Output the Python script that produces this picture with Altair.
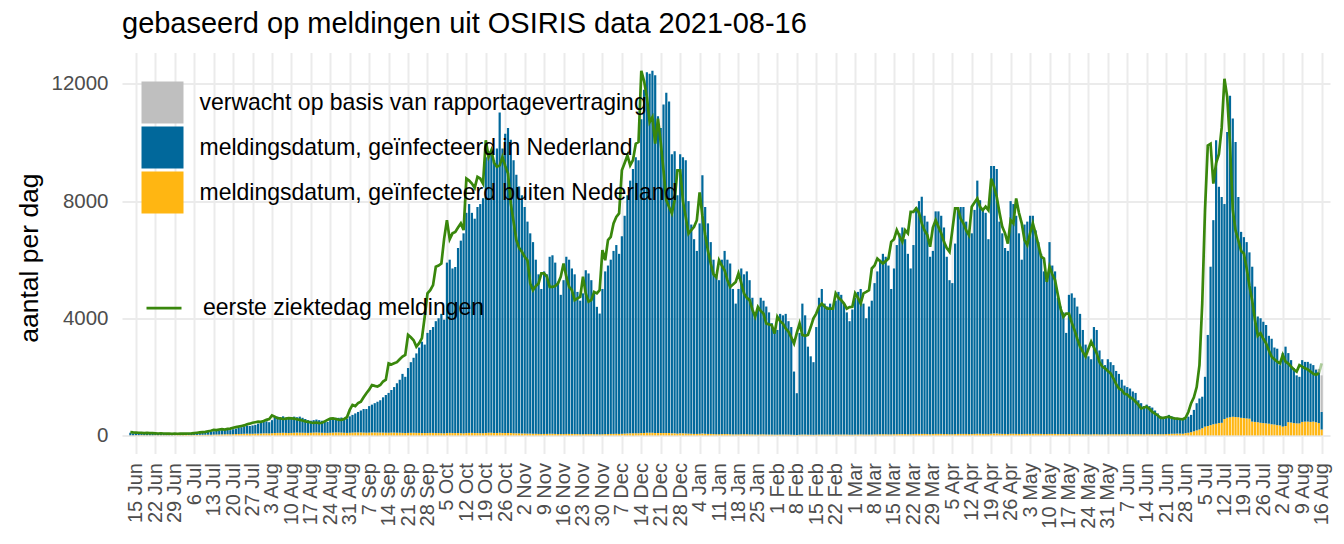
import altair as alt
import pandas as pd

LAB_EXP = "verwacht op basis van rapportagevertraging"
LAB_NL = "meldingsdatum, geïnfecteerd in Nederland"
LAB_ABR = "meldingsdatum, geïnfecteerd buiten Nederland"
LAB_LINE = "eerste ziektedag meldingen"
TITLE = "gebaseerd op meldingen uit OSIRIS data 2021-08-16"
Y_TITLE = "aantal per dag"

GREY = "#bfbfbf"
BLUE = "#01689b"
ORANGE = "#ffb612"
GREEN = "#39870c"
FONT = "Liberation Sans"

START = "2020-06-13"

# height of the stacked bars (in NL + abroad), one per day from 13 Jun 2020
bar_top = [
    90, 70,
    100, 95, 110, 90, 85, 80, 75,
    70, 65, 75, 70, 60, 60, 55,
    55, 60, 55, 60, 65, 70, 60,
    70, 80, 90, 95, 110, 130, 120,
    140, 150, 170, 180, 190, 200, 180,
    210, 230, 260, 280, 310, 340, 320,
    340, 360, 400, 430, 460, 480, 450,
    520, 600, 640, 620, 650, 610, 580,
    600, 640, 620, 640, 600, 560, 520,
    500, 520, 540, 520, 500, 480, 460,
    550, 580, 600, 600, 610, 590, 570,
    650, 700, 750, 800, 850, 900, 900,
    1000, 1050, 1100, 1150, 1200, 1300, 1380,
    1450, 1550, 1650, 1780, 1900, 2100, 2000,
    2300, 2500, 2650, 2800, 3000, 3200, 3100,
    3500, 3600, 3700, 3900, 4000, 4150, 3950,
    5900, 6000, 5700, 5750, 6400, 6650, 6900,
    7600, 7900, 7600, 7400, 7800, 7900, 8100,
    9500, 9700, 9600, 9400, 9800, 11030, 9800,
    10300, 10500, 10100, 9400, 8900, 8500, 8200,
    7800, 7300, 6900, 6600, 6000, 5500, 5000,
    5600, 5500, 6100, 6150, 5900, 5250, 4800,
    5300, 6100, 6000, 5700, 5500, 4900, 4600,
    4850, 5640, 5530, 5300, 4850, 4390, 4160,
    5000, 5600, 5800, 6000, 6300, 6500, 6200,
    6800, 7500, 8200, 8700, 9100, 9500, 9400,
    10800, 11800, 12400, 12350, 12450, 12300, 10900,
    10500, 11300, 11700, 11400, 9600, 9700, 8200,
    9600, 9500, 9400, 8000, 7200, 6700, 6300,
    7240, 8880, 7800, 7240, 6600, 6000, 5500,
    5300, 6000, 6300, 6000, 5870, 5000, 4500,
    5000, 5700, 5500, 5600, 5300, 4700, 4200,
    4300, 4700, 4600, 4400, 4200, 3830, 3500,
    3600, 4150, 4100, 4150, 3900, 3700, 2180,
    1440, 3500, 4500, 4100, 3030, 2700, 2500,
    3700, 4700, 5000, 4500, 4400, 4500, 4300,
    4600, 4900, 4800, 4500, 4200, 3900, 4300,
    4700, 4900, 5000, 4500, 4000, 4400, 4600,
    5200, 5600, 6000, 6200, 6100, 5800, 5000,
    5700, 6500, 6900, 7100, 6700, 6200, 5700,
    6500, 7800, 8000, 8150, 7500, 7300, 6100,
    6300, 7650, 7650, 7500, 7100, 6100, 5300,
    5200, 6550, 7750, 7800, 7800, 7300, 6900,
    6900, 7700, 8700, 8030, 7700, 7600, 6700,
    9200, 9200, 9100, 7300, 6900, 6400, 6300,
    8000, 7900, 7500, 6900, 6000, 7200, 7300,
    7500, 7500, 7000, 6600, 6200, 5600, 5300,
    6600, 5800, 5600, 4700, 4400, 4200, 3500,
    4800, 4850, 4700, 4400, 4150, 3600, 3100,
    2700, 2600, 3700, 3600, 2900, 2600, 2400,
    2600, 2500, 2400, 2200, 2100, 1900, 1700,
    1650, 1600, 1500, 1450, 1200, 1100, 1000,
    1050, 1000, 950, 850, 750, 650, 580,
    650, 700, 650, 600, 580, 560, 530,
    560, 640, 700, 870, 1100, 1260, 1320,
    2000, 3430, 5760, 7350, 10080, 8490, 8140,
    7900, 10360, 11600, 10820, 10020, 8140, 6950,
    6770, 6600, 6250, 5760, 5080, 4060, 4000,
    3880, 3770, 3400, 3300, 3000, 2960, 2400,
    2810, 3030, 2810, 2570, 2300, 2050, 2000,
    2570, 2510, 2510, 2450, 2400, 2250, 2150,
    800,
]

# infected abroad (bottom of each bar)
abroad = [
    5, 5,
    8, 8, 10, 8, 8, 7, 6,
    8, 7, 8, 8, 7, 7, 6,
    8, 10, 9, 10, 12, 12, 10,
    14, 16, 18, 20, 22, 25, 22,
    28, 30, 32, 35, 38, 40, 36,
    40, 45, 48, 50, 55, 58, 52,
    55, 60, 62, 65, 70, 72, 68,
    75, 80, 85, 85, 90, 85, 80,
    85, 90, 95, 92, 90, 88, 85,
    90, 95, 100, 95, 90, 88, 85,
    90, 95, 100, 100, 95, 90, 85,
    90, 95, 100, 100, 100, 95, 90,
    95, 100, 100, 100, 95, 95, 90,
    90, 95, 95, 90, 90, 85, 80,
    85, 90, 90, 85, 85, 80, 80,
    80, 85, 85, 80, 80, 75, 70,
    80, 85, 80, 80, 80, 75, 70,
    80, 85, 85, 80, 80, 75, 75,
    85, 90, 90, 85, 85, 90, 80,
    85, 85, 80, 75, 70, 70, 65,
    65, 60, 60, 55, 55, 50, 45,
    50, 50, 55, 55, 50, 45, 45,
    45, 50, 50, 50, 45, 45, 40,
    40, 45, 45, 45, 40, 40, 35,
    40, 45, 45, 50, 50, 55, 50,
    55, 60, 65, 70, 70, 75, 70,
    80, 85, 90, 90, 90, 85, 80,
    80, 85, 85, 80, 70, 70, 60,
    70, 70, 65, 60, 55, 50, 50,
    55, 60, 55, 50, 50, 45, 40,
    40, 45, 45, 45, 40, 35, 35,
    35, 40, 40, 40, 35, 35, 30,
    30, 35, 35, 30, 30, 30, 25,
    25, 30, 30, 30, 30, 25, 20,
    15, 25, 30, 30, 25, 25, 20,
    25, 30, 30, 30, 30, 30, 25,
    30, 30, 30, 30, 30, 25, 25,
    30, 30, 35, 30, 30, 30, 30,
    35, 35, 40, 40, 40, 35, 35,
    40, 40, 45, 45, 45, 40, 40,
    45, 50, 50, 50, 50, 45, 40,
    45, 50, 50, 50, 45, 45, 40,
    40, 45, 50, 50, 50, 50, 45,
    45, 50, 55, 55, 50, 50, 45,
    55, 60, 60, 55, 50, 50, 45,
    55, 55, 50, 50, 45, 50, 50,
    50, 55, 55, 50, 50, 45, 45,
    50, 50, 50, 45, 45, 45, 40,
    45, 45, 45, 45, 40, 40, 35,
    35, 35, 40, 40, 35, 35, 35,
    40, 40, 40, 40, 40, 40, 40,
    40, 40, 40, 40, 40, 40, 35,
    40, 40, 40, 40, 40, 40, 40,
    45, 50, 55, 55, 60, 60, 55,
    75, 90, 110, 140, 170, 200, 245,
    300, 320, 350, 380, 400, 420, 430,
    560, 600, 620, 640, 630, 620, 600,
    590, 580, 570, 470, 460, 450, 430,
    420, 410, 400, 380, 370, 350, 340,
    300, 320, 450, 440, 420, 410, 410,
    460, 470, 470, 460, 470, 450, 420,
    200,
]

# first day of illness (green line)
first_sick = [
    110, 100,
    95, 90, 85, 80, 85, 80, 75,
    70, 65, 70, 65, 60, 60, 55,
    60, 55, 60, 65, 60, 65, 70,
    80, 90, 100, 110, 120, 140, 160,
    190, 180, 200, 210, 200, 220, 230,
    260, 280, 300, 320, 340, 380, 400,
    430, 450, 470, 460, 490, 530, 560,
    680, 640, 590, 580, 560, 570, 590,
    580, 570, 550, 530, 510, 480, 460,
    440, 430, 440, 420, 430, 480, 530,
    570, 580, 560, 540, 530, 560, 620,
    870, 1040, 1000, 1100, 1150, 1300, 1440,
    1560, 1720, 1690, 1670, 1720, 1840, 1900,
    2460, 2420, 2460, 2500, 2600, 2690, 2750,
    3430, 3350, 3250, 3030, 3150, 3320, 4050,
    4850, 4960, 5130, 5760, 5800, 5870, 6720,
    7350, 6700, 6900, 6950, 7100, 7240, 7010,
    8770, 8700, 8600, 8450, 8830, 8770, 8600,
    10080, 9510, 9740, 9300, 9170, 9220, 9510,
    9200, 8940, 7920, 7300, 6670, 6400, 6270,
    6100, 5980, 5190, 4960, 5100, 5190, 5530,
    5530, 5420, 5070, 5070, 5100, 5190, 5420,
    5870, 5420, 5070, 4960, 4620, 4680, 4730,
    5420, 4850, 4570, 4620, 4900, 4850, 4960,
    6330, 5980, 6670, 6780, 7240, 7460, 7580,
    9050, 9300, 9560, 9220, 9400, 9960, 10020,
    12450, 12100, 11550, 10700, 10870, 9960, 10820,
    10000, 9050, 8030, 7800, 7580, 8030, 9050,
    9050, 8000, 7460, 6890, 7010, 7120, 7350,
    8300, 7500, 6850, 6300, 5870, 5500, 5400,
    5980, 5800, 5640, 5300, 5070, 5150, 5240,
    5530, 5200, 4850, 4700, 4620, 4300, 4050,
    4390, 4250, 4160, 3820, 3790, 3760, 3480,
    4050, 3900, 3820, 3650, 3540, 3350, 3140,
    3500, 3820, 3430, 3400, 3430, 3700, 4000,
    4160, 4400, 4500, 4400, 4330, 4330, 4330,
    4850, 4700, 4620, 4500, 4330, 4380, 4390,
    4850, 4700, 4500, 4850, 4900, 4960, 5700,
    5800, 6040, 5950, 5870, 5950, 6040, 6610,
    6700, 7010, 6800, 6610, 7010, 6900, 7630,
    7630, 7750, 7600, 7240, 7000, 6840, 6440,
    7100, 7350, 7120, 6900, 6610, 6400, 6270,
    7000, 7750, 7750, 7400, 7240, 7000, 6840,
    7810, 7950, 8090, 7800, 7690, 7810, 7690,
    8770, 8500, 8140, 7600, 7120, 6900, 6550,
    7350, 7240, 8090, 7600, 7240, 6670, 6500,
    6900, 7240, 6890, 6500, 6100, 6040, 5240,
    5760, 5500, 5300, 4800, 4330, 4050, 4160,
    4160, 3850, 3600, 3300, 3030, 2850, 2690,
    2950, 3200, 3000, 2800, 2500, 2350, 2290,
    2200, 2120, 1950, 1750, 1600, 1550, 1420,
    1400, 1300, 1250, 1150, 1050, 920, 950,
    980, 900, 800, 740, 680, 600, 600,
    620, 640, 600, 580, 570, 560, 550,
    600, 800, 1100, 1300, 1650, 2400, 4500,
    7700, 9900, 9960, 8600, 9300, 9600, 10500,
    12180, 11550, 9960, 7700, 7000, 6670, 6300,
    6210, 5700, 5100, 4600, 3940, 3400, 3490,
    3300, 3140, 2900, 2690, 2600, 2520, 2460,
    2750, 2520, 2450, 2350, 2250, 2180, 2400,
    2350, 2290, 2250, 2180, 2100, 2070, 2120,
    2460,
]

expected_dates = ["2021-08-14", "2021-08-15", "2021-08-16"]
expected_vals = [20, 120, 1250]

y_ticks = [0, 4000, 8000, 12000]
tick_dates = pd.date_range("2020-06-15", "2021-08-16", freq="7D")

assert len(bar_top) == len(abroad) == len(first_sick), (len(bar_top), len(abroad), len(first_sick))

days = list(pd.date_range(START, periods=len(bar_top), freq="D").strftime("%Y-%m-%d"))

rows = []
for d, top, ab in zip(days, bar_top, abroad):
    rows.append({"datum": d, "cat": LAB_ABR, "n": ab, "ord": 1})
    rows.append({"datum": d, "cat": LAB_NL, "n": top - ab, "ord": 2})
for d, v in zip(expected_dates, expected_vals):
    rows.append({"datum": d, "cat": LAB_EXP, "n": v, "ord": 3})
bars_df = pd.DataFrame(rows)

line_df = pd.DataFrame({"datum": days[:-1], "n": first_sick[:-1], "lbl": LAB_LINE})
tail_df = pd.DataFrame({"datum": days[-2:], "n": first_sick[-2:]})


def utc(ts, hours=0):
    return alt.DateTime(year=ts.year, month=ts.month, date=ts.day, hours=hours, utc=True)


x_scale = alt.Scale(
    type="utc",
    domain=[utc(pd.Timestamp("2020-06-11"), 19), utc(pd.Timestamp("2021-08-17"), 5)],
    nice=False,
)
y_scale = alt.Scale(domain=[-622, 13072], nice=False, zero=False)

x_axis = alt.Axis(
    values=[utc(t) for t in tick_dates],
    format="%-d %b",
    labelAngle=270,
    labelAlign="right",
    labelBaseline="middle",
    labelFontSize=20,
    labelFont=FONT,
    labelColor="#4d4d4d",
    labelPadding=9,
    labelOverlap=False,
    labelFlush=False,
    labelBound=False,
    ticks=False,
    tickSize=0,
    domain=False,
    grid=True,
    gridColor="#ebebeb",
    gridWidth=2,
    title=None,
)
y_axis = alt.Axis(
    values=y_ticks,
    format="d",
    labelFontSize=20.5,
    labelFont=FONT,
    labelColor="#4d4d4d",
    labelPadding=14,
    labelOverlap=False,
    ticks=False,
    tickSize=0,
    domain=False,
    grid=True,
    gridColor="#ebebeb",
    gridWidth=2,
    title=Y_TITLE,
    titleFont=FONT,
    titleFontSize=26.5,
    titleFontWeight="normal",
    titleColor="black",
    titleX=-93,
    titleY=205,
    titleAngle=270,
    titleAlign="center",
    titleBaseline="middle",
)

x_enc = alt.X("datum:T", scale=x_scale, axis=x_axis)
y_enc = alt.Y("n:Q", scale=y_scale, axis=y_axis)

bars = alt.Chart(bars_df).mark_bar(size=2.2).encode(
    x=x_enc,
    y=alt.Y("n:Q", stack="zero", scale=y_scale, axis=y_axis),
    fill=alt.Fill(
        "cat:N",
        scale=alt.Scale(domain=[LAB_EXP, LAB_NL, LAB_ABR], range=[GREY, BLUE, ORANGE]),
        legend=alt.Legend(
            title=None,
            orient="none",
            legendX=19.5,
            legendY=29,
            symbolType="square",
            symbolSize=1764,
            symbolStrokeWidth=0,
            symbolOpacity=1,
            labelFontSize=23,
            labelFont=FONT,
            labelColor="black",
            labelOffset=16,
            labelLimit=900,
            rowPadding=3,
            padding=0,
        ),
    ),
    order=alt.Order("ord:Q", sort="ascending"),
)

line = alt.Chart(line_df).mark_line(strokeWidth=2.7).encode(
    x=x_enc,
    y=y_enc,
    stroke=alt.Stroke(
        "lbl:N",
        scale=alt.Scale(domain=[LAB_LINE], range=[GREEN]),
        legend=alt.Legend(
            title=None,
            orient="none",
            legendX=23,
            legendY=236.6,
            symbolType="stroke",
            symbolSize=1225,
            symbolStrokeWidth=2.7,
            labelFontSize=23,
            labelFont=FONT,
            labelColor="black",
            labelOffset=20,
            labelLimit=900,
            padding=0,
        ),
    ),
)

tail = alt.Chart(tail_df).mark_line(strokeWidth=2.7, color=GREEN, opacity=0.4).encode(
    x=x_enc,
    y=y_enc,
)

chart = (
    alt.layer(bars, line, tail)
    .properties(
        width=1208,
        height=401,
        autosize=alt.AutoSizeParams(type="none"),
        padding={"left": 114, "top": 44.6, "right": 6, "bottom": 84},
        background="white",
        title=alt.TitleParams(
            TITLE,
            anchor="start",
            frame="group",
            fontSize=29,
            font=FONT,
            fontWeight="normal",
            color="black",
            offset=14,
        ),
    )
    .configure_view(strokeWidth=0)
    .configure_axisX(labelOverlap=False)
)

chart.save("out.html", embed_options={"renderer": "svg", "actions": False})
